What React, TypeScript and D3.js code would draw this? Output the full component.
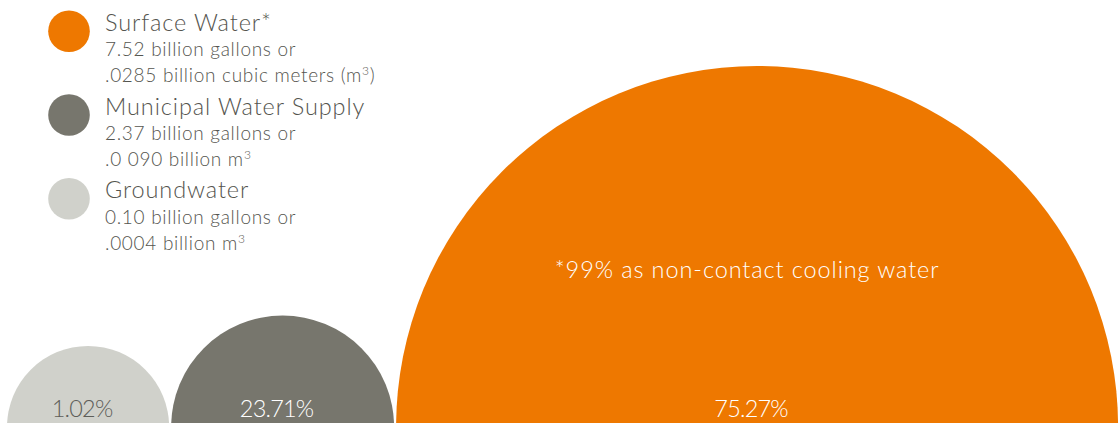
import React from "react";
import * as d3 from "d3";

const categories = ["Groundwater", "Municipal Water Supply", "Surface Water*"];
const percents = [1.02, 23.71, 75.27];
const gallons = ["0.10", "2.37", "7.52"];
const cubicMeters = [".0004", ".0 090", ".0285"];
const percentLabels = ["1.02%", "23.71%", "75.27%"];
const legendOrder = [2, 1, 0];
const note = "*99% as non-contact cooling water";

const colors = ["#D0D1CB", "#77766D", "#EE7800"];
const labelColors = ["#5E5E59", "#FFFFFF", "#FFFFFF"];
const textColor = "#55554F";
const font = "Lato, 'Open Sans', sans-serif";

const W = 1120;
const H = 423;

export default function App() {
  const rScale = d3
    .scalePow()
    .exponent(1.92)
    .domain([0, d3.max(percents) as number])
    .range([81, 361]);

  const cy = H + 4;
  const gap = 2;
  let left = 7;
  const bubbles = percents.map((p, i) => {
    const r = rScale(p);
    const cx = left + r;
    left = cx + r + gap;
    return { i, r, cx };
  });

  const legendY = d3.scaleLinear().domain([0, 1]).range([30.7, 114.5]);

  return (
    <svg
      width={W}
      height={H}
      style={{ position: "absolute", left: 0, top: 0, display: "block" }}
      fontFamily={font}
    >
      {bubbles.map((b) => (
        <circle key={"c" + b.i} cx={b.cx} cy={cy} r={b.r} fill={colors[b.i]} />
      ))}
      {bubbles.map((b) => (
        <text
          key={"t" + b.i}
          x={b.cx - 6}
          y={416.5}
          textAnchor="middle"
          fontSize={23.5}
          fontWeight={300}
          letterSpacing={-0.8}
          fill={labelColors[b.i]}
        >
          {percentLabels[b.i]}
        </text>
      ))}
      <text
        x={bubbles[2].cx - 10}
        y={278}
        textAnchor="middle"
        fontSize={23.5}
        fontWeight={300}
        letterSpacing={0.9}
        fill="#FFFFFF"
      >
        {note}
      </text>
      {legendOrder.map((idx, k) => {
        const y = legendY(k);
        const isFirst = k === 0;
        return (
          <g key={"l" + idx}>
            <circle cx={69} cy={y + 0.5} r={20.8} fill={colors[idx]} />
            <text x={105} y={y} fontSize={23.5} fontWeight={300} letterSpacing={0.9} fill={textColor}>
              {categories[idx]}
            </text>
            <text x={105} y={y + 25.6} fontSize={19} fontWeight={300} letterSpacing={0.7} fill={textColor}>
              {gallons[idx] + " billion gallons or"}
            </text>
            <text x={105} y={y + 51.2} fontSize={19} fontWeight={300} letterSpacing={0.7} fill={textColor}>
              {cubicMeters[idx] + (isFirst ? " billion cubic meters (m" : " billion m")}
              <tspan fontSize={12} dy={-7}>3</tspan>
              {isFirst ? <tspan dy={7}>)</tspan> : null}
            </text>
          </g>
        );
      })}
    </svg>
  );
}
